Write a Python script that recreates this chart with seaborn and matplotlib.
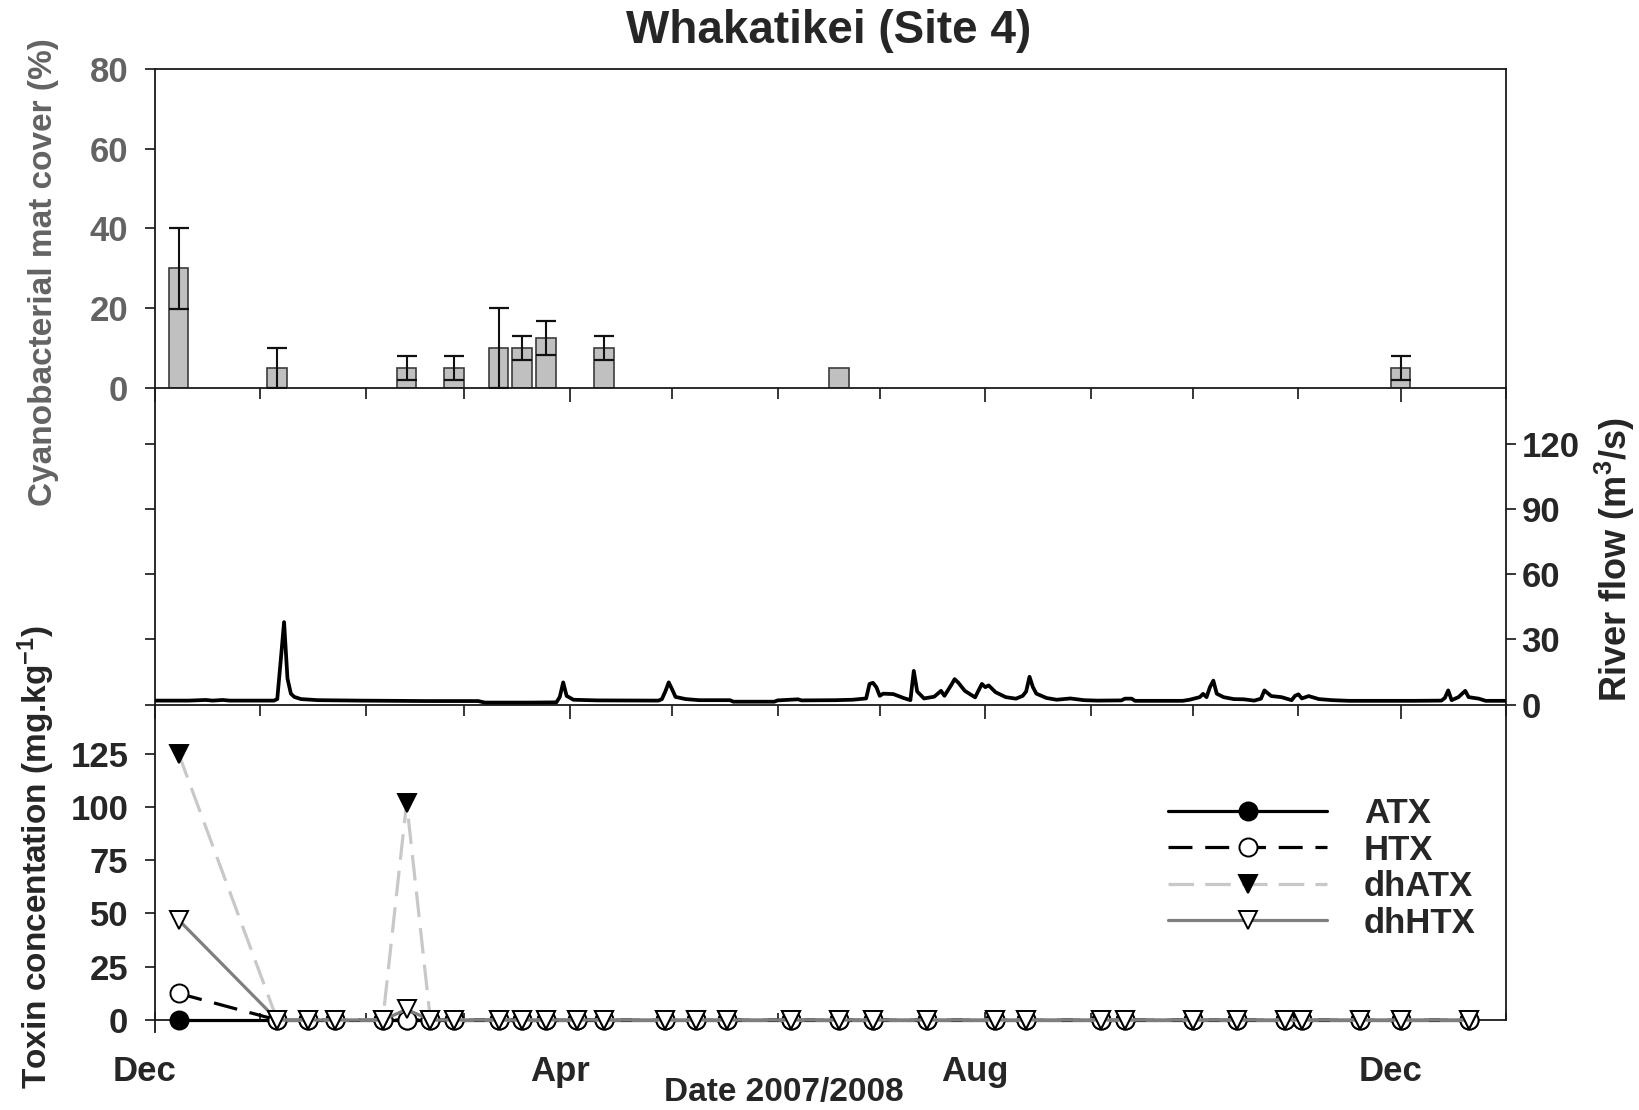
import matplotlib
matplotlib.use("Agg")
import matplotlib.pyplot as plt
import matplotlib.dates as mdates
from matplotlib.transforms import ScaledTranslation
import pandas as pd
import seaborn as sns

START = pd.Timestamp("2007-12-01")

# Cyanobacterial mat cover (%) - mean and error per survey
cover_dates = ["2007-12-08", "2008-01-06", "2008-02-13", "2008-02-27", "2008-03-11",
               "2008-03-18", "2008-03-25", "2008-04-11", "2008-06-19", "2008-12-01"]
cover_mean = [30, 5, 5, 5, 10, 10, 12.5, 10, 5, 5]
cover_err = [10.2, 5, 3, 3, 10, 3, 4.3, 3, 0, 3]

# River flow (m3/s), days after 1 Dec 2007
flow_day = [0, 10, 15, 17, 20, 22, 35, 36, 37, 38,
            39, 40, 41, 43, 48, 60, 80, 95, 97, 110,
            118, 119, 120, 121, 123, 130, 148, 149, 150, 151,
            152, 153, 156, 160, 169, 170, 182, 183, 189, 190,
            200, 205, 209, 210, 211, 212, 213, 214, 217, 220,
            222, 223, 224, 226, 229, 231, 232, 234, 235, 236,
            238, 241, 243, 244, 245, 247, 250, 253, 255, 256,
            257, 258, 259, 262, 265, 269, 273, 277, 284, 285,
            287, 288, 302, 304, 307, 308, 309, 310, 311, 312,
            314, 317, 320, 323, 325, 326, 328, 331, 334, 335,
            336, 337, 339, 342, 346, 351, 370, 378, 379, 380,
            381, 383, 385, 386, 389, 391, 397]
flow_cms = [1.8, 1.8, 2.1, 1.8, 2.1, 1.8, 1.8, 2.5, 20, 38,
            12, 5, 3.5, 2.5, 2.0, 1.8, 1.6, 1.6, 0.9, 0.9,
            1.0, 3.5, 10.2, 4.0, 2.2, 1.9, 1.8, 2.5, 6.0, 10.2,
            7.0, 3.5, 2.5, 2.0, 2.0, 1.3, 1.3, 1.9, 2.4, 1.9,
            2.0, 2.2, 2.8, 9.5, 10.0, 8.0, 4.0, 5.0, 4.8, 3.0,
            2.0, 15.5, 6.0, 2.8, 3.6, 6.3, 4.0, 9.0, 11.7, 10.2,
            6.3, 3.3, 9.5, 8.0, 8.8, 5.7, 3.4, 2.7, 4.0, 6.0,
            12.8, 8.0, 5.0, 3.0, 2.2, 2.8, 2.0, 1.8, 1.9, 2.7,
            2.7, 1.7, 1.7, 2.2, 3.4, 4.9, 3.4, 8.0, 11.0, 5.0,
            3.4, 2.5, 2.4, 1.8, 2.7, 6.5, 3.9, 3.4, 2.0, 4.0,
            4.7, 2.8, 3.9, 2.5, 2.0, 1.7, 1.7, 1.8, 3.0, 6.5,
            2.0, 3.4, 6.3, 3.4, 2.7, 1.7, 1.7]

# Toxin concentrations (mg/kg) per sampling date
toxin_dates = ["2007-12-08", "2008-01-06", "2008-01-15", "2008-01-23", "2008-02-06",
               "2008-02-13", "2008-02-20", "2008-02-27", "2008-03-11", "2008-03-18",
               "2008-03-25", "2008-04-03", "2008-04-11", "2008-04-29", "2008-05-08",
               "2008-05-17", "2008-06-05", "2008-06-19", "2008-06-29", "2008-07-15",
               "2008-08-04", "2008-08-13", "2008-09-04", "2008-09-11", "2008-10-01",
               "2008-10-14", "2008-10-28", "2008-11-02", "2008-11-19", "2008-12-01",
               "2008-12-21"]
atx = [0, 0, 0, 0, 0, 0, 0, 0, 0, 0, 0, 0, 0, 0, 0, 0,
       0, 0, 0, 0, 0, 0, 0, 0, 0, 0, 0, 0, 0, 0, 0]
htx = [12.5, 0, 0, 0, 0, 0, 0, 0, 0, 0, 0, 0, 0, 0, 0, 0,
       0, 0, 0, 0, 0, 0, 0, 0, 0, 0, 0, 0, 0, 0, 0]
dhatx = [125, 0, 0, 0, 0, 102, 0, 0, 0, 0, 0, 0, 0, 0, 0, 0,
         0, 0, 0, 0, 0, 0, 0, 0, 0, 0, 0, 0, 0, 0, 0]
dhhtx = [47, 0, 0, 0, 0, 5, 0, 0, 0, 0, 0, 0, 0, 0, 0, 0,
         0, 0, 0, 0, 0, 0, 0, 0, 0, 0, 0, 0, 0, 0, 0]

sns.set_theme(style="ticks")
NARROW = ["Liberation Sans Narrow", "DejaVu Sans Condensed", "Liberation Sans", "DejaVu Sans"]
WIDE = ["Liberation Sans", "DejaVu Sans"]
plt.rcParams["font.family"] = NARROW
plt.rcParams["font.weight"] = "bold"
plt.rcParams["mathtext.fontset"] = "custom"
plt.rcParams["mathtext.bf"] = "Liberation Sans:bold"
plt.rcParams["mathtext.rm"] = "Liberation Sans:bold"
plt.rcParams["mathtext.default"] = "bf"

SPINE_LW = 1.3
TICK_FS = 25
GREY_TXT = "#636363"

fig = plt.figure(figsize=(16.39, 11.10), dpi=100)
L, W = 0.0944, 0.8245
ax_top = fig.add_axes([L, 0.6506, W, 0.2872])
ax_mid = fig.add_axes([L, 0.3653, W, 0.2853], sharex=ax_top)
ax_bot = fig.add_axes([L, 0.0705, W, 0.2948], sharex=ax_top)
for ax in (ax_top, ax_mid, ax_bot):
    ax.set_facecolor("none")
    for s in ax.spines.values():
        s.set_linewidth(SPINE_LW)
        s.set_color("#1a1a1a")

# ---- mat cover bars ----
cov = pd.DataFrame({"date": pd.to_datetime(cover_dates), "mean": cover_mean, "err": cover_err})
ax_top.bar(cov["date"], cov["mean"], width=5.8, color="#c0c0c0", edgecolor="#3c3c3c",
           linewidth=1.2, zorder=2)
with_err = cov[cov["err"] > 0]
ax_top.errorbar(with_err["date"], with_err["mean"], yerr=with_err["err"], fmt="none",
                ecolor="#111111", elinewidth=1.5, capsize=7, capthick=1.6, zorder=3)
ax_top.set_ylim(0, 80)
ax_top.set_yticks([0, 20, 40, 60, 80])
ax_top.tick_params(axis="y", direction="out", length=7, width=SPINE_LW, pad=12,
                   labelsize=TICK_FS, labelcolor=GREY_TXT)
ax_top.tick_params(axis="x", which="both", direction="out", width=SPINE_LW, labelbottom=False)
ax_top.tick_params(axis="x", which="major", length=10)
ax_top.tick_params(axis="x", which="minor", length=8)

# ---- river flow ----
flow = pd.DataFrame({"date": START + pd.to_timedelta(flow_day, unit="D"), "flow": flow_cms})
sns.lineplot(data=flow, x="date", y="flow", ax=ax_mid, color="black", linewidth=2.7,
             estimator=None, sort=False, zorder=3)
ax_mid.set_ylim(0, 146)
ax_mid.set_yticks([0, 30, 60, 90, 120])
ax_mid.spines["top"].set_visible(False)
ax_mid.tick_params(axis="y", left=True, right=True, labelleft=False, labelright=True,
                   direction="out", length=7, width=SPINE_LW, pad=4, labelsize=TICK_FS)
ax_mid.tick_params(axis="x", which="both", direction="out", width=SPINE_LW, labelbottom=False)
ax_mid.tick_params(axis="x", which="major", length=10)
ax_mid.tick_params(axis="x", which="minor", length=8)
ax_mid.set_xlabel("")
ax_mid.set_ylabel("")

# ---- toxins ----
tox = pd.DataFrame({"date": pd.to_datetime(toxin_dates), "ATX": atx, "HTX": htx,
                    "dhATX": dhatx, "dhHTX": dhhtx})
styles = {
    "ATX": dict(color="black", linestyle="-", marker="o", markerfacecolor="black"),
    "HTX": dict(color="black", linestyle=(0, (7.5, 4)), marker="o", markerfacecolor="white"),
    "dhATX": dict(color="#c8c8c8", linestyle=(0, (8, 3.5)), marker="v", markerfacecolor="black"),
    "dhHTX": dict(color="#7f7f7f", linestyle="-", marker="v", markerfacecolor="white"),
}
for z, (name, st) in enumerate(styles.items()):
    sns.lineplot(data=tox, x="date", y=name, ax=ax_bot, linewidth=2.3, markersize=13,
                 markeredgecolor="black", markeredgewidth=1.4, estimator=None,
                 label=name, zorder=3 + z, clip_on=False, **st)
ax_bot.set_ylim(-5.5, 148)
ax_bot.set_yticks([0, 25, 50, 75, 100, 125])
ax_bot.spines["top"].set_visible(False)
ax_bot.spines["bottom"].set_position(("data", 0))
ax_bot.spines["right"].set_bounds(0, 148)
ax_bot.tick_params(axis="y", direction="out", length=7, width=SPINE_LW, pad=12, labelsize=TICK_FS)
ax_bot.tick_params(axis="x", which="both", direction="in", width=SPINE_LW, pad=25,
                   labelsize=TICK_FS)
ax_bot.tick_params(axis="x", which="major", length=6)
ax_bot.tick_params(axis="x", which="minor", length=5)
ax_bot.set_xlabel("")
ax_bot.set_ylabel("")

ax_bot.xaxis.set_major_locator(mdates.MonthLocator(bymonth=[12, 4, 8]))
ax_bot.xaxis.set_minor_locator(mdates.MonthLocator())
ax_bot.xaxis.set_major_formatter(mdates.DateFormatter("%b"))
ax_bot.set_xlim(pd.Timestamp("2007-12-01"), pd.Timestamp("2009-01-01"))

# month labels sit slightly left of their ticks
shift = ScaledTranslation(-0.10, 0, fig.dpi_scale_trans)
for lab in ax_bot.get_xticklabels():
    lab.set_transform(lab.get_transform() + shift)

handles, labels = ax_bot.get_legend_handles_labels()
ax_bot.legend(handles, labels, loc="upper left", bbox_to_anchor=(0.750, 0.717),
              frameon=False, fontsize=25, handlelength=4.58, handletextpad=1.05,
              labelspacing=0.1, borderpad=0, borderaxespad=0, numpoints=1)

# ---- titles and axis labels ----
fig.text(0.5058, 1 - 31.4 / 1110, "Whakatikei (Site 4)", ha="center", va="center",
         fontsize=33, fontweight="bold")
fig.text(44 / 1639, 1 - 272 / 1110, "Cyanobacterial mat cover (%)", rotation=90,
         ha="center", va="center", fontsize=24, fontweight="bold", color=GREY_TXT, family=WIDE)
fig.text(36.6 / 1639, 1 - 857 / 1110, "Toxin concentation (mg.kg$^{-1}$)", rotation=90,
         ha="center", va="center", fontsize=24, fontweight="bold", family=WIDE)
fig.text(1615 / 1639, 1 - 560 / 1110, "River flow (m$^{3}$/s)", rotation=90,
         ha="center", va="center", fontsize=26, fontweight="bold", family=WIDE)
fig.text(784 / 1639, 1 - 1092 / 1110, "Date 2007/2008", ha="center", va="center",
         fontsize=24, fontweight="bold")

fig.savefig("out.png", dpi=100)
